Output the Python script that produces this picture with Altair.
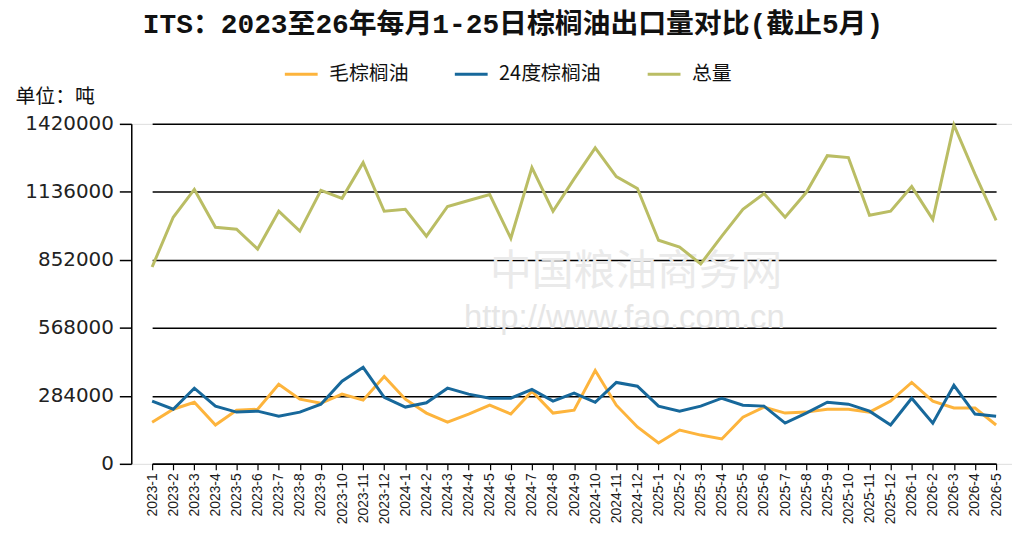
import altair as alt
import pandas as pd

months = [f"{y}-{m}" for y, n in [(2023, 12), (2024, 12), (2025, 12), (2026, 5)] for m in range(1, n + 1)]

series_names = ["毛棕榈油", "24度棕榈油", "总量"]
series_colors = ["#FDB43C", "#17689B", "#BABD64"]

crude = [174000, 228000, 257000, 162000, 224000, 228000, 332000, 270000, 253000, 291000,
         266000, 365000, 270000, 212000, 174000, 208000, 245000, 208000, 303000, 212000,
         224000, 390000, 245000, 154000, 87000, 141000, 120000, 104000, 195000, 237000,
         212000, 216000, 228000, 228000, 216000, 262000, 340000, 262000, 233000, 233000,
         162000]

palm24 = [262000, 228000, 316000, 241000, 216000, 220000, 199000, 216000, 249000, 345000,
          403000, 278000, 237000, 255000, 316000, 291000, 274000, 274000, 311000, 262000,
          295000, 257000, 340000, 324000, 241000, 220000, 241000, 274000, 245000, 241000,
          170000, 212000, 257000, 249000, 220000, 162000, 274000, 170000, 328000, 208000,
          199000]

total = [822000, 1030000, 1146000, 988000, 980000, 897000, 1055000, 972000, 1142000, 1109000,
         1258000, 1055000, 1063000, 951000, 1075000, 1100000, 1125000, 942000, 1237000, 1055000,
         1190000, 1320000, 1200000, 1150000, 934000, 905000, 835000, 951000, 1063000, 1129000,
         1030000, 1133000, 1287000, 1279000, 1038000, 1055000, 1158000, 1021000, 1416000, 1210000,
         1017000]

y_ticks = [0, 284000, 568000, 852000, 1136000, 1420000]

title_text = "ITS：2023至26年每月1-25日棕榈油出口量对比(截止5月)"
unit_text = "单位：吨"
watermark_cn = "中国粮油商务网"
watermark_url = "http://www.fao.com.cn"

rows = []
for name, vals in zip(series_names, [crude, palm24, total]):
    for i, (m, v) in enumerate(zip(months, vals)):
        rows.append({"月份": m, "系列": name, "数量": v, "order": series_names.index(name)})
df = pd.DataFrame(rows)

W, H = 886, 342

base = alt.Chart(df)

lines = base.mark_line(strokeWidth=3, strokeJoin="miter").encode(
    x=alt.X("月份:N", sort=months,
            scale=alt.Scale(range=[21, 870], padding=0),
            axis=alt.Axis(title=None, labelAngle=270, labelFontSize=14, labelFont="Liberation Sans",
                          labelColor="#1a1a1a", tickSize=6, tickColor="black", domainColor="black",
                          domainWidth=1.5, tickWidth=1.2, labelPadding=3, grid=False)),
    y=alt.Y("数量:Q",
            scale=alt.Scale(domain=[0, 1420000], nice=False, zero=True),
            axis=alt.Axis(values=y_ticks, format="d", title=unit_text, titleAngle=0,
                          titleX=-117, titleY=-27, titleAlign="left", titleBaseline="middle",
                          titleFont="Noto Sans CJK SC", titleFontSize=20, titleFontWeight="normal",
                          titleColor="#111111",
                          labelFont="DejaVu Sans", labelFontSize=20, labelColor="#222222",
                          labelPadding=6, tickSize=12, tickColor="black", tickWidth=1.5,
                          domainColor="black", domainWidth=1.5,
                          grid=True, gridColor="black", gridWidth=1.5)),
    color=alt.Color("系列:N", sort=series_names,
                    scale=alt.Scale(domain=series_names, range=series_colors),
                    legend=alt.Legend(title=None, orient="none", direction="horizontal",
                                      legendX=153, legendY=-68,
                                      symbolType="stroke", symbolSize=1089, symbolStrokeWidth=3,
                                      labelFont="Noto Sans CJK SC", labelFontSize=20,
                                      labelColor="#111111", labelOffset=10, columnPadding=40)),
    order=alt.Order("order:Q"),
)

wm_cn = alt.Chart(pd.DataFrame({"t": [watermark_cn]})).mark_text(
    font="Noto Sans CJK SC", fontSize=42, color="#EAEAEA", align="center", baseline="middle"
).encode(text="t:N", x=alt.value(508), y=alt.value(149))

wm_url = alt.Chart(pd.DataFrame({"t": [watermark_url]})).mark_text(
    font="Liberation Sans", fontSize=33, color="#E6E6E6", align="center", baseline="middle"
).encode(text="t:N", x=alt.value(496), y=alt.value(195))

title = alt.Chart(pd.DataFrame({"t": [title_text]})).mark_text(
    font="Liberation Mono, Noto Sans CJK SC", fontSize=28, fontWeight="bold", color="#111111",
    align="center", baseline="middle"
).encode(text="t:N", x=alt.value(384), y=alt.value(-99))

chart = alt.layer(wm_cn, wm_url, lines, title).properties(
    width=W, height=H,
    autosize=alt.AutoSizeParams(type="none"),
    padding={"left": 124, "top": 115, "right": 0, "bottom": 60},
).configure_view(stroke=None).configure(background="white")

chart.save("out.html", embed_options={"renderer": "svg", "actions": False})
